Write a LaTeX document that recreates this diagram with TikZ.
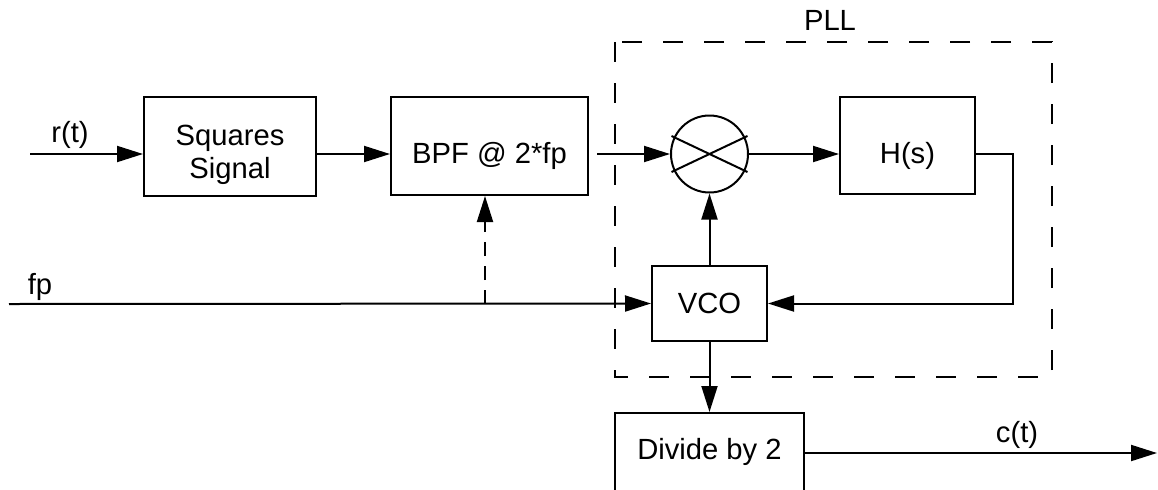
\documentclass[tikz,border=0pt]{standalone}
\usepackage{fontspec}
\setmainfont{Liberation Sans}
\usetikzlibrary{arrows.meta,calc}
\begin{document}
\begin{tikzpicture}[x=0.5pt,y=-0.5pt,line width=1pt,
  font=\fontsize{14.6}{16.5}\selectfont,
  block/.style={draw,inner sep=0pt,align=center},
  onerow/.style={text height=20pt,text depth=2.5pt},
  sig/.style={-{Triangle[length=13pt,width=8pt]}},
  pll/.style={dash pattern=on 10pt off 10.5pt},
  tapline/.style={dash pattern=on 7pt off 5pt}]
\useasboundingbox (0,0) rectangle (1158,489);
\clip (0,0) rectangle (1158,489);
% the blocks
\node[block,minimum width=86pt,minimum height=49.5pt,text height=35pt,text depth=3pt] (squares) at (230,146.5) {Squares\\Signal};
\node[block,onerow,minimum width=98.5pt,minimum height=49pt] (bpf) at (489.5,146) {BPF @ 2*fp};
\node[block,circle,minimum size=38.5pt] (mixer) at (709.5,154) {};
\node[block,onerow,minimum width=67.5pt,minimum height=48.5pt] (hs) at (907.5,145.5) {H(s)};
\node[block,minimum width=57.5pt,minimum height=37.5pt] (vco) at (709.5,303.5) {VCO};
\node[block,minimum width=94.5pt,minimum height=39pt] (divide) at (709.5,452) {Divide by 2};
% the cross in the mixer
\draw ($(mixer)+(-38,-18)$) -- ($(mixer)+(38,18)$);
\draw ($(mixer)+(-38,18)$) -- ($(mixer)+(38,-18)$);
% the PLL frame
\draw[pll] (615,42) rectangle (1052,377);
\node (plllabel) at (830,20) {PLL};
% inputs and outputs
\coordinate (rin) at (30,154);
\coordinate (fpin) at (9,304);
\coordinate (tap) at (485,304);
\coordinate (hturn) at (1013,154);
\coordinate (cout) at (1157,453);
\node (rlabel) at (70,135) {r(t)};
\node (fplabel) at (40,287) {fp};
\node (clabel) at (1017,435) {c(t)};
% the connections
\draw[sig] (rin) -- (squares.west |- rin);
\draw[sig] (squares.east |- mixer) -- (bpf.west |- mixer);
\draw[sig,shorten <=4pt] (bpf.east |- mixer) -- (mixer.west);
\draw[sig] (mixer.east) -- (hs.west |- mixer);
\draw[sig] (hs.east |- mixer) -- (hturn) |- (vco.east);
\draw[sig] (vco.north) -- (mixer.south);
\draw[sig] (fpin) -- (vco.west);
\draw[sig,tapline] (tap) -- (tap |- bpf.south);
\draw[sig] (vco.south) -- (divide.north);
\draw[sig] (divide.east |- cout) -- (cout);
\end{tikzpicture}
\end{document}
